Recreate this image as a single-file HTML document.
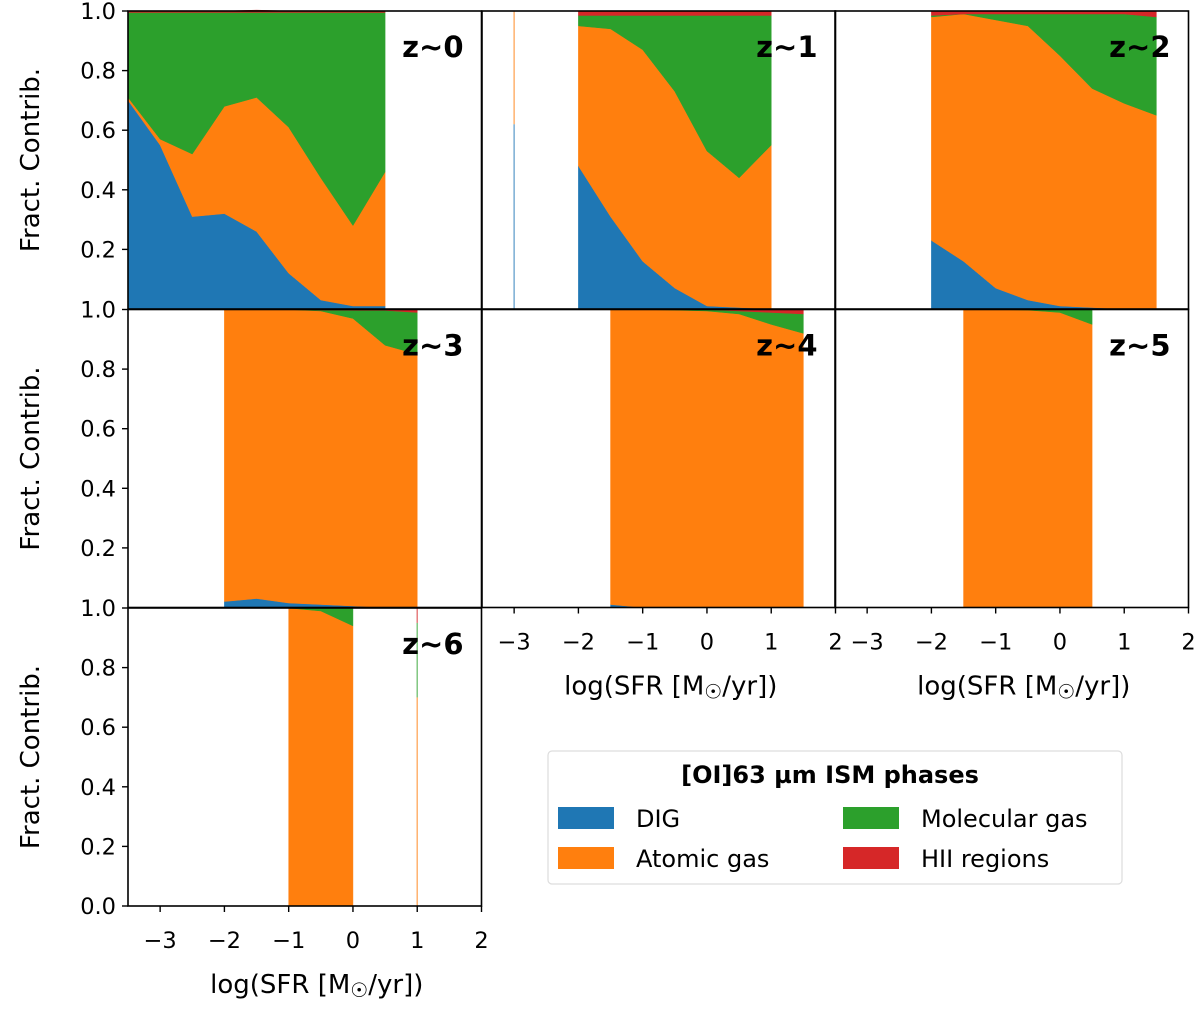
<!DOCTYPE html>
<html><head><meta charset="utf-8">
<style>
body{margin:0;background:#fff;}
svg text{font-family:"DejaVu Sans","Liberation Sans",sans-serif;}
</style></head>
<body>
<svg id="fig" width="1200" height="1010" viewBox="0 0 1200 1010" xmlns="http://www.w3.org/2000/svg"></svg>
<script>
const xTickLabels=['−3','−2','−1','0','1','2'];
const xTickValues=[-3,-2,-1,0,1,2];
const yTickValues=[0,0.2,0.4,0.6,0.8,1.0];
const yTickLabels=['0.0','0.2','0.4','0.6','0.8','1.0'];
const phaseNames=['DIG','Atomic gas','Molecular gas','HII regions'];
const phaseColors=['#1f77b4','#ff7f0e','#2ca02c','#d62728'];
const panelLabels=['z~0','z~1','z~2','z~3','z~4','z~5','z~6'];

const z0_x=[-3.5,-3,-2.5,-2,-1.5,-1,-0.5,0,0.5];
const z0_dig=[0.70,0.55,0.31,0.32,0.26,0.12,0.03,0.01,0.01];
const z0_atomic=[0.01,0.02,0.21,0.36,0.45,0.49,0.41,0.27,0.45];
const z0_mol=[0.285,0.425,0.475,0.315,0.285,0.385,0.555,0.715,0.535];
const z0_hii=[0.005,0.005,0.005,0.005,0.008,0.005,0.005,0.005,0.005];

const z1_x=[-2,-1.5,-1,-0.5,0,0.5,1];
const z1_dig=[0.48,0.31,0.16,0.07,0.01,0.005,0];
const z1_atomic=[0.47,0.63,0.71,0.66,0.52,0.435,0.55];
const z1_mol=[0.035,0.045,0.115,0.255,0.455,0.545,0.435];
const z1_hii=[0.015,0.015,0.015,0.015,0.015,0.015,0.015];
const z1_spike_x=[-3];
const z1_spike_dig=[0.62];
const z1_spike_atomic=[0.38];
const z1_spike_mol=[0];
const z1_spike_hii=[0];

const z2_x=[-2,-1.5,-1,-0.5,0,0.5,1,1.5];
const z2_dig=[0.23,0.16,0.07,0.03,0.01,0.005,0,0];
const z2_atomic=[0.75,0.83,0.90,0.92,0.84,0.735,0.69,0.65];
const z2_mol=[0.005,0,0.02,0.04,0.14,0.25,0.30,0.33];
const z2_hii=[0.015,0.01,0.01,0.01,0.01,0.01,0.01,0.02];

const z3_x=[-2,-1.5,-1,-0.5,0,0.5,1];
const z3_dig=[0.02,0.03,0.015,0.01,0.005,0,0];
const z3_atomic=[0.98,0.97,0.985,0.985,0.965,0.88,0.85];
const z3_mol=[0,0,0,0.003,0.027,0.117,0.14];
const z3_hii=[0,0,0,0.002,0.003,0.003,0.01];

const z4_x=[-1.5,-1,-0.5,0,0.5,1,1.5];
const z4_dig=[0.01,0,0,0,0,0,0];
const z4_atomic=[0.99,1,0.998,0.995,0.985,0.95,0.92];
const z4_mol=[0,0,0.002,0.005,0.01,0.04,0.065];
const z4_hii=[0,0,0,0,0.005,0.01,0.015];

const z5_x=[-1.5,-1,-0.5,0,0.5];
const z5_dig=[0,0,0,0,0];
const z5_atomic=[1,1,0.998,0.99,0.95];
const z5_mol=[0,0,0.002,0.01,0.05];
const z5_hii=[0,0,0,0,0];

const z6_x=[-1,-0.5,0];
const z6_dig=[0,0,0];
const z6_atomic=[1,0.99,0.94];
const z6_mol=[0,0.01,0.06];
const z6_hii=[0,0,0];
const z6_spike_x=[1];
const z6_spike_dig=[0];
const z6_spike_atomic=[0.7];
const z6_spike_mol=[0.25];
const z6_spike_hii=[0.05];

const NS='http://www.w3.org/2000/svg';
const svg=document.getElementById('fig');
function mk(tag,attrs,parent){const e=document.createElementNS(NS,tag);for(const k in attrs)e.setAttribute(k,attrs[k]);(parent||svg).appendChild(e);return e;}

const colL=[128,482,835], rowT=[11,309.5,608], PW=353.5, PH=298;
const XMIN=-3.5,XMAX=2;
function sx(p,v){return colL[p.c]+(v-XMIN)/(XMAX-XMIN)*PW;}
function sy(p,v){return rowT[p.r]+PH-v*PH;}

const panels=[
 {c:0,r:0,x:z0_x,s:[z0_dig,z0_atomic,z0_mol,z0_hii]},
 {c:1,r:0,x:z1_x,s:[z1_dig,z1_atomic,z1_mol,z1_hii],spike:{x:z1_spike_x,s:[z1_spike_dig,z1_spike_atomic,z1_spike_mol,z1_spike_hii]}},
 {c:2,r:0,x:z2_x,s:[z2_dig,z2_atomic,z2_mol,z2_hii]},
 {c:0,r:1,x:z3_x,s:[z3_dig,z3_atomic,z3_mol,z3_hii]},
 {c:1,r:1,x:z4_x,s:[z4_dig,z4_atomic,z4_mol,z4_hii]},
 {c:2,r:1,x:z5_x,s:[z5_dig,z5_atomic,z5_mol,z5_hii]},
 {c:0,r:2,x:z6_x,s:[z6_dig,z6_atomic,z6_mol,z6_hii],spike:{x:z6_spike_x,s:[z6_spike_dig,z6_spike_atomic,z6_spike_mol,z6_spike_hii]}}
];

panels.forEach((p,pi)=>{
  const g=mk('g',{});
  
  
  let base=p.x.map(()=>0);
  p.s.forEach((ser,k)=>{
    const top=base.map((b,i)=>b+ser[i]);
    let d='';
    p.x.forEach((xv,i)=>{d+=(i?'L':'M')+sx(p,xv).toFixed(2)+','+sy(p,top[i]).toFixed(2);});
    for(let i=p.x.length-1;i>=0;i--)d+='L'+sx(p,p.x[i]).toFixed(2)+','+sy(p,base[i]).toFixed(2);
    const path=mk('path',{d:d+'Z',fill:phaseColors[k],stroke:phaseColors[k],'stroke-width':0.5},g);
    
    
    base=top;
  });
  if(p.spike){
    let b=0;
    p.spike.s.forEach((ser,k)=>{
      const v=ser[0]; if(v<=0)return;
      const l=mk('line',{x1:sx(p,p.spike.x[0]),x2:sx(p,p.spike.x[0]),y1:sy(p,b),y2:sy(p,b+v),stroke:phaseColors[k],'stroke-width':1.5,'stroke-opacity':0.6},g);
      
      
      b+=v;
    });
  }
  const fr=mk('rect',{x:colL[p.c],y:rowT[p.r],width:PW,height:PH,fill:'none',stroke:'#000','stroke-width':1.6},g);
  
  
  const lab=mk('text',{x:colL[p.c]+PW-18,y:rowT[p.r]+46,'text-anchor':'end','font-size':29,'font-weight':'bold'},g);
  lab.textContent=panelLabels[pi];
  
  
  if(p.c===0){
    yTickValues.forEach((v,i)=>{
      if(v===0&&p.r<2)return;
      const y=sy(p,v);
      mk('line',{x1:colL[0]-6,x2:colL[0],y1:y,y2:y,stroke:'#000','stroke-width':1.4},g);
      const t=mk('text',{x:colL[0]-12,y:y+8,'text-anchor':'end','font-size':22.5},g);
      t.textContent=yTickLabels[i];
      
      
    });
    const yc=rowT[p.r]+PH/2;
    const yl=mk('text',{x:39,y:yc,'text-anchor':'middle','font-size':26,transform:'rotate(-90 39 '+yc+')'},g);
    yl.textContent='Fract. Contrib.';
    
    
  }
  if(p.r===2||(p.r===1&&p.c>0)){
    const yb=rowT[p.r]+PH;
    xTickValues.forEach((v,i)=>{
      const x=sx(p,v);
      mk('line',{x1:x,x2:x,y1:yb,y2:yb+6,stroke:'#000','stroke-width':1.4},g);
      const t=mk('text',{x:x,y:yb+42,'text-anchor':'middle','font-size':22.5},g);
      t.textContent=xTickLabels[i];
      
      
    });
    const xl=mk('text',{x:colL[p.c]+PW/2+12,y:yb+87,'text-anchor':'middle','font-size':26},g);
    xl.innerHTML='log(SFR [M<tspan font-size="20" dy="4">☉</tspan><tspan dy="-4">/yr])</tspan>';
    
    
  }
});

const lg=mk('g',{});


mk('rect',{x:548,y:751,width:574,height:133,rx:4,fill:'#fff',stroke:'#ddd','stroke-width':1.2},lg);
const lt=mk('text',{x:830,y:783,'text-anchor':'middle','font-size':24,'font-weight':'bold'},lg);
lt.textContent='[OI]63 µm ISM phases';


const pos=[[558,807],[558,847],[843,807],[843,847]];
phaseNames.forEach((n,k)=>{
  const e=mk('g',{},lg);
  
  
  mk('rect',{x:pos[k][0],y:pos[k][1],width:56,height:22,fill:phaseColors[k]},e);
  const t=mk('text',{x:pos[k][0]+78,y:pos[k][1]+20,'font-size':24},e);
  t.textContent=n;
});
</script>
</body></html>
